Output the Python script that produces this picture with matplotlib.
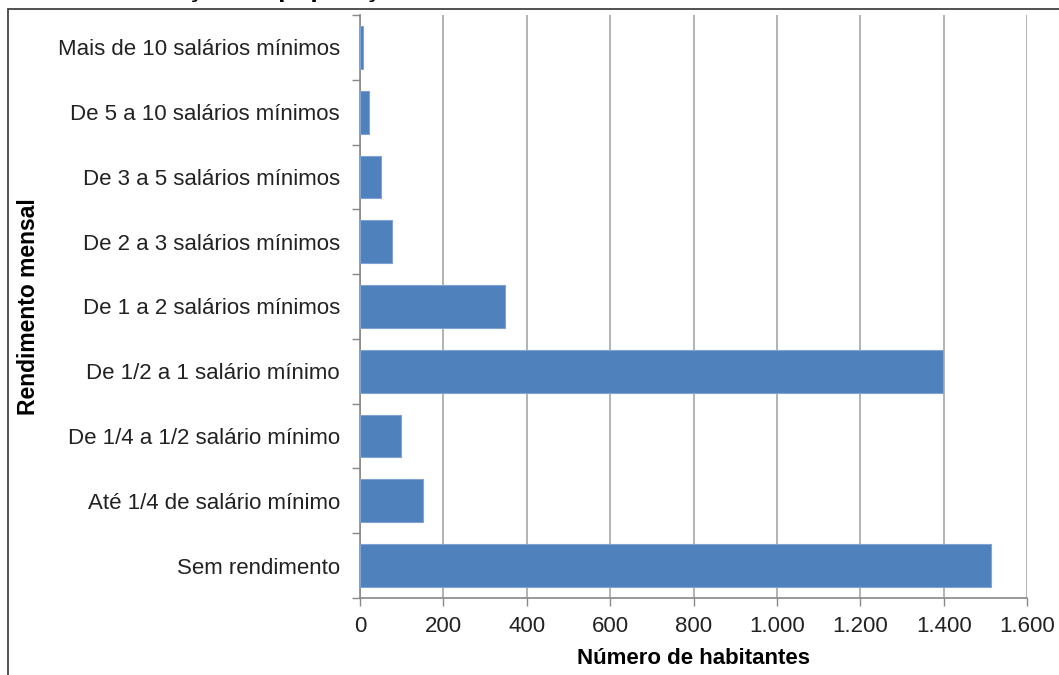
import numpy as np
import matplotlib.pyplot as plt
from matplotlib.patches import Rectangle
from matplotlib.ticker import FuncFormatter

plt.rcParams['font.family'] = ['Liberation Sans', 'DejaVu Sans']

categorias = ['Sem rendimento', 'Até 1/4 de salário mínimo', 'De 1/4 a 1/2 salário mínimo',
              'De 1/2 a 1 salário mínimo', 'De 1 a 2 salários mínimos', 'De 2 a 3 salários mínimos',
              'De 3 a 5 salários mínimos', 'De 5 a 10 salários mínimos', 'Mais de 10 salários mínimos']
habitantes = [1513, 150, 98, 1399, 347, 77, 50, 22, 6]
xticks = [0, 200, 400, 600, 800, 1000, 1200, 1400, 1600]

fig = plt.figure(figsize=(10.59, 6.75), dpi=100)

# moldura da area do grafico (cortada a direita e embaixo)
fig.patches.append(Rectangle((8 / 1059, -0.05), 1.2, 1 - 9 / 675 + 0.05,
                             transform=fig.transFigure, fill=False,
                             edgecolor='#333333', linewidth=1.2))

# titulo cortado no topo (so as partes de baixo aparecem)
fig.text(80 / 1059, 1.0 + 3.5 / 675, 'Distribuição da população',
         fontsize=19, fontweight='bold', ha='left', va='baseline')

ax = fig.add_axes([360 / 1059, 1 - 598 / 675, 667 / 1059, 583 / 675])
y = np.arange(len(categorias))
ax.barh(y, habitantes, height=0.66, color='#4f81bd', edgecolor='#7fa3d3', linewidth=0.8, zorder=3)

ax.set_xlim(0, 1600)
ax.set_ylim(-0.5, len(categorias) - 0.5)
ax.set_xticks(xticks)
ax.xaxis.set_major_formatter(FuncFormatter(lambda v, p: '{:,.0f}'.format(v).replace(',', '.')))
ax.set_yticks(y)
ax.set_yticklabels(categorias)
ax.set_yticks(np.arange(len(categorias) + 1) - 0.5, minor=True)
ax.tick_params(axis='y', which='major', length=0, pad=14.5, labelsize=16, colors='#222222')
ax.tick_params(axis='y', which='minor', length=6, width=1, color='#888888', direction='out')
ax.tick_params(axis='x', length=6, width=1, color='#888888', direction='out', pad=7,
               labelsize=16, labelcolor='#222222')

ax.grid(axis='x', color='#a6a6a6', linewidth=1.2, zorder=0)
for s in ['top', 'right']:
    ax.spines[s].set_visible(False)
ax.spines['left'].set_color('#888888')
ax.spines['bottom'].set_color('#888888')
ax.spines['left'].set_linewidth(1.2)
ax.spines['bottom'].set_linewidth(1.2)

ax.set_xlabel('Número de habitantes', fontsize=16, fontweight='bold', labelpad=8)
ax.set_ylabel('Rendimento mensal', fontsize=16.5, fontweight='bold')
ax.yaxis.set_label_coords(-(360 - 40) / 667, 0.5)

fig.savefig('out.png', dpi=100)
